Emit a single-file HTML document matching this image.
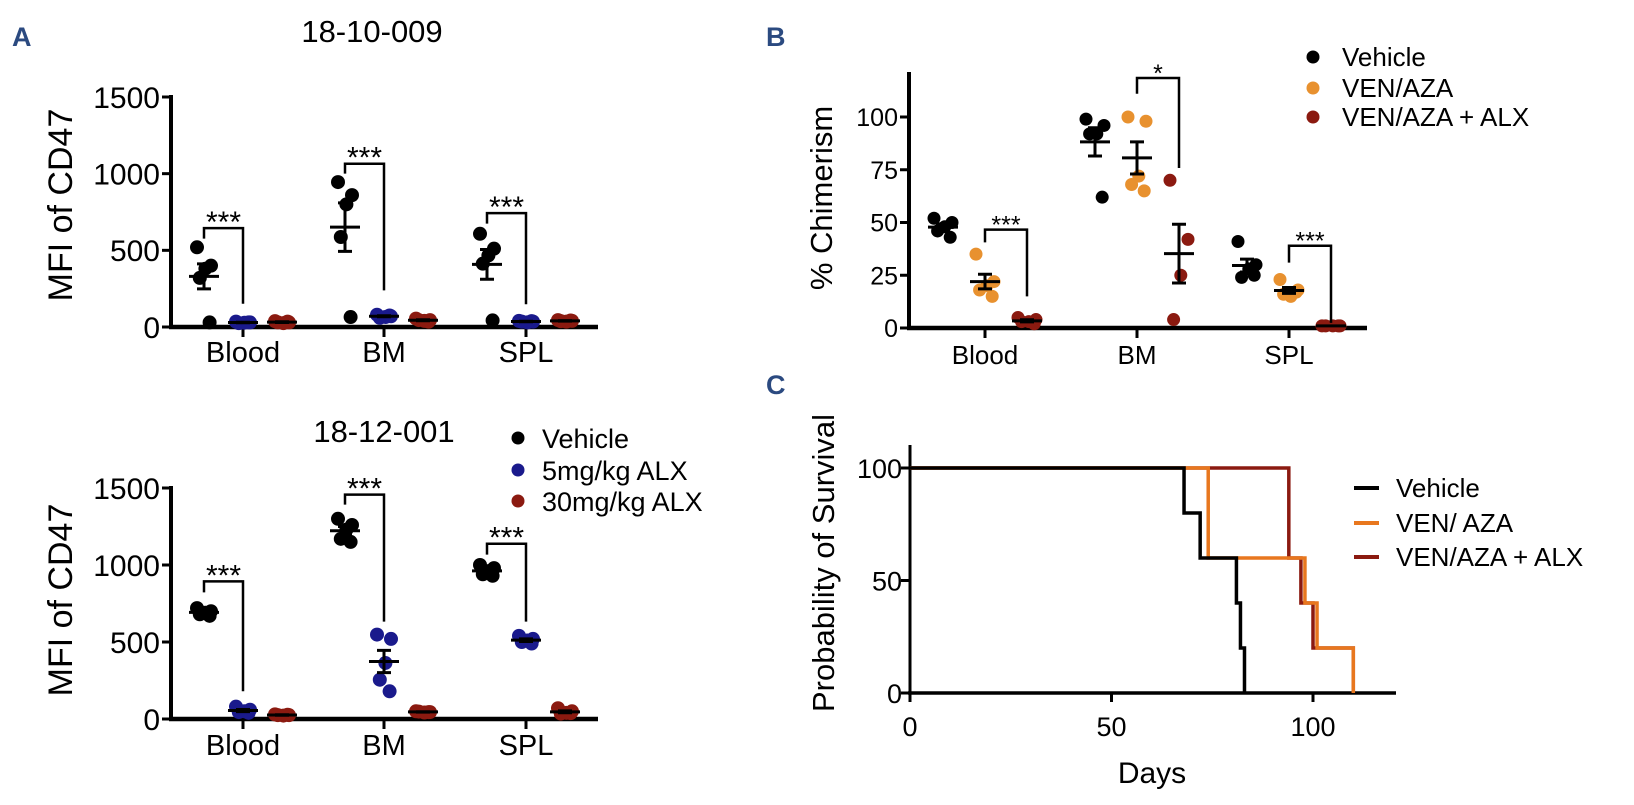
<!DOCTYPE html>
<html><head><meta charset="utf-8">
<style>
html,body{margin:0;padding:0;background:#fff;}
svg{display:block;font-family:"Liberation Sans",Arial,sans-serif;}
</style></head>
<body>
<svg id="fig" width="1634" height="805" viewBox="0 0 1634 805" xmlns="http://www.w3.org/2000/svg">
<text x="12" y="46" font-size="27" font-weight="bold" fill="#2b4a80">A</text>
<text x="766" y="46" font-size="27" font-weight="bold" fill="#2b4a80">B</text>
<text x="766" y="394" font-size="27" font-weight="bold" fill="#2b4a80">C</text>
<text x="372" y="42" font-size="31" text-anchor="middle">18-10-009</text>
<text x="384" y="442" font-size="31" text-anchor="middle">18-12-001</text>
<g id="legA">
<circle cx="518" cy="438" r="6.5" fill="#000"/><text x="542" y="448" font-size="27">Vehicle</text>
<circle cx="518" cy="470" r="6.5" fill="#1a1a8c"/><text x="542" y="480" font-size="27">5mg/kg ALX</text>
<circle cx="518" cy="501" r="6.5" fill="#8b1a10"/><text x="542" y="511" font-size="27">30mg/kg ALX</text>
</g>
<g id="legB">
<circle cx="1313" cy="57" r="6.5" fill="#000"/><text x="1342" y="66" font-size="26">Vehicle</text>
<circle cx="1313" cy="88" r="6.5" fill="#e8912f"/><text x="1342" y="97" font-size="26">VEN/AZA</text>
<circle cx="1313" cy="117" r="6.5" fill="#8b1a10"/><text x="1342" y="126" font-size="26">VEN/AZA + ALX</text>
</g>
<g id="legC">
<line x1="1354" y1="488" x2="1379" y2="488" stroke="#000" stroke-width="4"/><text x="1396" y="497" font-size="26">Vehicle</text>
<line x1="1354" y1="523" x2="1379" y2="523" stroke="#e8771e" stroke-width="4"/><text x="1396" y="532" font-size="26">VEN/ AZA</text>
<line x1="1354" y1="557" x2="1379" y2="557" stroke="#8b1a10" stroke-width="4"/><text x="1396" y="566" font-size="26">VEN/AZA + ALX</text>
</g>
</svg>
<script>
const categories = ["Blood","BM","SPL"];
// Panel A top (18-10-009): points per category per group [vehicle, 5mg, 30mg]
const a1Vehicle = [[520,400,380,320,30],[945,860,800,587,65],[608,511,467,413,43]];
const a1Low = [[35,30,28,25,30],[80,70,65,60,75],[40,35,30,35,38]];
const a1High = [[38,30,25,30,35],[55,45,40,45,35],[45,40,35,38,42]];
const a1Brackets = [[645,576,152],[1065,1000,239],[743,674,148]];
const aTicks = [0,500,1000,1500];
// Panel A bottom (18-12-001)
const a2Vehicle = [[720,700,690,680,670],[1300,1260,1230,1170,1150],[1000,980,960,940,930]];
const a2Low = [[80,60,50,45,40],[548,520,364,255,180],[540,520,510,500,490]];
const a2High = [[30,25,22,25,28],[50,45,42,48,45],[70,50,40,35,38]];
const a2Brackets = [[894,822,180],[1457,1392,632],[1138,1067,632]];
// Panel B (% chimerism)
const bVehicle = [[52,50,48,46,43],[99,96,92,92,62],[41,30,28,24,25]];
const bVenAza = [[35,22,20,18,15],[100,98,72,68,65],[23,18,15,16,17]];
const bVenAzaAlx = [[5,4,3,3,2],[70,42,25,4],[1,1,1,1,1]];
const bBrackets = [[46.6,40.6,15],[118.5,111,75.8],[39,31,2.4]];
const bStars = ["***","*","***"];
const bTicks = [0,25,50,75,100];
// Panel C survival: [day, survival%] steps
const cVehicle = [[0,100],[68,80],[72,60],[81,40],[82,20],[83,0]];
const cVenAza = [[0,100],[74,60],[98,40],[101,20],[110,0]];
const cVenAzaAlx = [[0,100],[94,60],[97,40],[100,20],[110,0]];
const cTicksX = [0,50,100];
const cTicksY = [0,50,100];

const NS="http://www.w3.org/2000/svg";
const svg=document.getElementById('fig');
function mk(tag,attrs,parent){const e=document.createElementNS(NS,tag);for(const k in attrs)e.setAttribute(k,attrs[k]);(parent||svg).appendChild(e);return e;}
function mean(a){return a.reduce((s,v)=>s+v,0)/a.length;}
function sem(a){const m=mean(a);return Math.sqrt(a.reduce((s,v)=>s+(v-m)*(v-m),0)/(a.length-1))/Math.sqrt(a.length);}
const jitPattern=[-1,1,0.2,-0.6,0.8];

function dotPanel(o){
  const g=mk('g',{});
  
  
  const y=v=>o.y0-(v-0)*(o.y0-o.yMaxPx)/o.yMax;
  const ya=mk('line',{x1:o.ax,y1:o.axTop,x2:o.ax,y2:o.y0+2,stroke:'#000','stroke-width':4},g);
  
  
  const xa=mk('line',{x1:o.ax-2,y1:o.y0,x2:o.axRight,y2:o.y0,stroke:'#000','stroke-width':4.5},g);
  
  
  o.ticks.forEach(t=>{
    mk('line',{x1:o.ax-9,y1:y(t),x2:o.ax,y2:y(t),stroke:'#000','stroke-width':3},g);
    const tl=mk('text',{x:o.ax-11,y:y(t)+o.tickFs*0.36,'font-size':o.tickFs,'text-anchor':'end'},g);
    tl.textContent=t;
    
    
  });
  const yt=mk('text',{x:0,y:0,'font-size':o.titleFs,'text-anchor':'middle',transform:`translate(${o.ytX},${o.ytY}) rotate(-90)`},g);
  yt.textContent=o.yTitle;
  
  
  categories.forEach((c,i)=>{
    const cx=o.centers[i];
    mk('line',{x1:cx,y1:o.y0,x2:cx,y2:o.y0+10,stroke:'#000','stroke-width':3},g);
    const cl=mk('text',{x:cx,y:o.catY,'font-size':o.catFs,'text-anchor':'middle'},g);
    cl.textContent=c;
    
    
    o.series.forEach((s,j)=>{
      const gx=cx+(j-1)*o.gap;
      const pts=s.data[i];
      pts.forEach((v,k)=>{
        const off=jitPattern[k%5]*o.jit;
        const d=mk('circle',{cx:gx+off,cy:y(v),r:o.r,fill:s.color},g);
        
        
      });
      const m=mean(pts),e=sem(pts);
      const eb=mk('path',{d:`M${gx-15},${y(m)}H${gx+15}M${gx},${y(m+e)}V${y(m-e)}M${gx-7},${y(m+e)}H${gx+7}M${gx-7},${y(m-e)}H${gx+7}`,stroke:'#000','stroke-width':3,fill:'none'},g);
      
      
    });
    const b=o.brackets[i];
    const lx=cx+(o.brFrom-1)*o.gap, rx=cx+(o.brTo-1)*o.gap;
    const br=mk('path',{d:`M${lx},${y(b[1])}V${y(b[0])}H${rx}V${y(b[2])}`,stroke:'#000','stroke-width':2.5,fill:'none'},g);
    
    
    const st=mk('text',{x:(lx+rx)/2,y:y(b[0])+4,'font-size':o.starFs,'text-anchor':'middle'},g);
    st.textContent=o.stars[i];
    
    
  });
}

dotPanel({name:'panel-a-top',ax:171,axTop:95,axRight:598,y0:327,yMaxPx:97,yMax:1500,ticks:aTicks,tickFs:30,catFs:29,titleFs:34,
  ytX:72,ytY:205,yTitle:'MFI of CD47',centers:[243,384,526],gap:39,catY:362,r:7,jit:7,
  series:[{key:'vehicle',color:'#000',data:a1Vehicle},{key:'5mg',color:'#1a1a8c',data:a1Low},{key:'30mg',color:'#8b1a10',data:a1High}],
  brackets:a1Brackets,brFrom:0,brTo:1,stars:["***","***","***"],starFs:30});
dotPanel({name:'panel-a-bottom',ax:171,axTop:486,axRight:598,y0:719,yMaxPx:488,yMax:1500,ticks:aTicks,tickFs:30,catFs:29,titleFs:34,
  ytX:72,ytY:600,yTitle:'MFI of CD47',centers:[243,384,526],gap:39,catY:755,r:7,jit:7,
  series:[{key:'vehicle',color:'#000',data:a2Vehicle},{key:'5mg',color:'#1a1a8c',data:a2Low},{key:'30mg',color:'#8b1a10',data:a2High}],
  brackets:a2Brackets,brFrom:0,brTo:1,stars:["***","***","***"],starFs:30});
dotPanel({name:'panel-b',ax:909,axTop:72,axRight:1367,y0:328,yMaxPx:117,yMax:100,ticks:bTicks,tickFs:25,catFs:26,titleFs:31,
  ytX:832,ytY:198,yTitle:'% Chimerism',centers:[985,1137,1289],gap:42,catY:364,r:6.5,jit:9,
  series:[{key:'vehicle',color:'#000',data:bVehicle},{key:'venaza',color:'#e8912f',data:bVenAza},{key:'venaza-alx',color:'#8b1a10',data:bVenAzaAlx}],
  brackets:bBrackets,brFrom:1,brTo:2,stars:bStars,starFs:25});

// Panel C
(function(){
  const ax=910,y0=693,xMaxPx=1313,yMaxPx=468;
  const x=d=>ax+d*(xMaxPx-ax)/100, y=v=>y0-v*(y0-yMaxPx)/100;
  const g=mk('g',{});
  
  
  const ya=mk('line',{x1:ax,y1:445,x2:ax,y2:y0+2,stroke:'#000','stroke-width':3},g);
  
  
  const xa=mk('line',{x1:ax-2,y1:y0,x2:1396,y2:y0,stroke:'#000','stroke-width':3.5},g);
  
  
  cTicksY.forEach(t=>{mk('line',{x1:ax-9,y1:y(t),x2:ax,y2:y(t),stroke:'#000','stroke-width':3},g);
    const l=mk('text',{x:ax-8,y:y(t)+10,'font-size':27,'text-anchor':'end'},g);l.textContent=t;
    
    });
  cTicksX.forEach(t=>{mk('line',{x1:x(t),y1:y0,x2:x(t),y2:y0+9,stroke:'#000','stroke-width':3},g);
    const l=mk('text',{x:x(t),y:736,'font-size':27,'text-anchor':'middle'},g);l.textContent=t;
    
    });
  const xt=mk('text',{x:1152,y:783,'font-size':30,'text-anchor':'middle'},g);xt.textContent='Days';
  
  
  const yt=mk('text',{x:0,y:0,'font-size':31,'text-anchor':'middle',transform:'translate(834,563) rotate(-90)'},g);yt.textContent='Probability of Survival';
  
  
  function step(data){let d=`M${x(data[0][0])},${y(data[0][1])}`;for(let i=1;i<data.length;i++){d+=`H${x(data[i][0])}V${y(data[i][1])}`;}return d;}
  [[cVenAzaAlx,'#8b1a10','survival-venaza-alx'],[cVenAza,'#e8771e','survival-venaza'],[cVehicle,'#000','survival-vehicle']].forEach(s=>{
    const p=mk('path',{d:step(s[0]),stroke:s[1],'stroke-width':3.5,fill:'none'},g);
    
    
  });
})();
</script>
</body></html>
